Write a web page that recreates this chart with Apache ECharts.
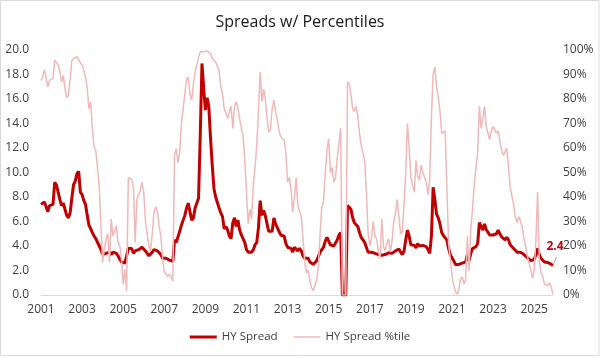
<!DOCTYPE html>
<html>
<head>
<meta charset="utf-8">
<script src="https://cdn.jsdelivr.net/npm/echarts@6/dist/echarts.min.js"></script>
<style>html,body{margin:0;padding:0;background:#fff}#c{width:600px;height:357px}</style>
</head>
<body>
<div id="c"></div>
<script>
// Monthly observations, Jan 2001 .. Dec 2025
const firstYear = 2001;
const monthCount = 300;
const xTickLabels = ['2001','2003','2005','2007','2009','2011','2013','2015','2017','2019','2021','2023','2025'];
const leftTickLabels = ['0.0','2.0','4.0','6.0','8.0','10.0','12.0','14.0','16.0','18.0','20.0'];
const rightTickLabels = ['0%','10%','20%','30%','40%','50%','60%','70%','80%','90%','100%'];

const hySpread = [
7.4,7.4,7.6,7.7,6.8,7.3,7.4,7.4,9.2,9.0,
8.4,7.8,7.3,7.5,7.0,6.5,6.3,6.7,7.9,9.0,
9.3,9.9,10.1,8.4,8.2,7.7,7.4,6.5,5.7,5.6,
5.1,4.8,4.6,4.5,4.0,3.7,3.3,3.2,3.4,3.3,
3.5,3.3,3.5,3.4,3.4,3.2,2.9,2.7,2.6,2.6,
2.7,3.8,3.9,3.8,3.4,3.6,3.7,3.7,3.8,3.9,
3.75,3.6,3.4,3.2,3.3,3.5,3.7,3.7,3.6,3.5,
3.3,3.0,2.85,3.0,3.0,2.85,2.7,2.75,4.5,4.3,
4.2,5.2,5.7,5.7,6.5,7.1,7.5,6.8,6.1,6.3,
7.1,7.5,7.9,13.0,18.9,16.9,15.1,16.1,15.4,12.8,
10.6,8.7,8.0,7.9,7.1,6.7,6.4,5.4,5.6,5.3,
4.8,4.6,5.9,6.3,5.6,6.1,5.3,4.9,4.9,4.3,
3.7,3.5,3.5,3.5,3.7,4.1,4.3,5.5,7.7,6.5,
6.9,6.5,5.8,5.2,5.1,5.2,6.3,5.8,5.5,5.2,
4.9,4.8,4.8,4.2,3.9,3.9,3.8,3.5,3.9,4.0,
3.6,3.8,3.6,3.2,3.0,2.85,3.0,2.7,2.55,2.5,
2.6,2.8,3.15,3.5,3.7,3.9,4.4,4.7,4.7,4.1,
4.1,4.0,4.1,4.5,4.9,5.1,0,0,0,7.3,
7.4,7.0,6.3,5.9,5.8,5.6,5.1,4.7,4.5,4.3,
3.9,3.5,3.4,3.5,3.4,3.4,3.35,3.3,3.45,3.25,
3.2,3.3,3.2,3.45,3.3,3.4,3.5,3.6,3.5,3.75,
3.5,3.3,3.6,4.5,5.3,4.8,4.1,4.0,4.05,3.85,
4.2,4.0,4.05,4.05,4.05,3.95,3.7,3.4,4.8,8.8,
7.8,6.6,6.3,5.8,5.1,4.85,4.9,4.5,3.8,3.3,
3.25,2.8,2.5,2.4,2.5,2.5,2.6,2.6,2.7,3.3,
2.8,3.4,3.8,3.9,3.95,4.2,5.9,5.6,5.3,5.8,
5.35,5.2,4.9,5.0,4.9,4.95,5.0,5.3,5.0,4.75,
4.6,4.5,4.7,4.5,4.1,4.0,3.8,3.7,3.5,3.6,
3.5,3.4,3.3,3.15,3.05,2.9,2.8,2.7,2.9,3.3,
3.8,3.3,3.0,2.85,2.7,2.7,2.65,2.6,2.5,2.4
];

const hyPercentile = [
87.5,89,92,92.5,85,87.7,88.4,88.4,95.9,95.2,
93.9,91.5,87,89.5,84.5,80.5,81.5,88,95.5,96.5,
96.6,97.3,97.3,94.8,93.9,91.8,89,84.3,76,78.8,
68,60.4,59,58.3,44.7,28,13.3,18.7,22.8,25,
13.3,31,24.2,26,28.3,21.4,20,14.6,4.4,10.5,
1.6,48,48,47,44,21.4,39.2,40,42.6,46,
42,30,25,20,18,25,34,36,34,28,
24,15,9.5,10,7.5,8.5,7.5,5.7,57,59.7,
54,58,70,76,82,88,89,82,79.5,86,
90.5,93.9,97,99.3,100,99.3,99.3,99.6,99.3,98.5,
96.5,96,95,93.5,91.5,85,82,76,74,72,
75,77,68,77,79,76,76,68,65,55,
42,29,35,31,45,52,61,75,91,79,
84,80,72,66.5,67.5,76,79.5,74.5,71.5,67,
64.5,64,63.2,58,46,48,43,33.7,40,48,
36.5,37,32,23,14,9,10,6,3,1.8,
1,6,12,25,36,38,50,59,63.8,50,
52,46,48,56,61.5,68,0,0,0,87,
86,82,76,75,77,73,66,61,58,55,
42,25.5,20,23,30,24,23,18,15,31,
20,18,21,23,17.5,22,30,33,39,32,
25,26,37,50,70,60,48,48,42,55,
48,47,53,50,50,46,41,47,73,90,
93,85,81,75,66,66,67,45,21,15,
8,4,1.5,0.3,2,6.5,7.5,4.5,6.5,24,
10,27,35,45,52,58,77,68,72,77,
69,66,63.5,67,68.8,69.5,66,67,63,59,
57,57,60,52,44,40.5,37,32,29.6,32,
32.5,28,23,20,16,13,10.5,7,10,22,
42,14,9,7.5,4.5,5,3.8,5,3.2,0.3
];

const months = [];
for (let i = 0; i < monthCount; i++) {
  const y = firstYear + Math.floor(i / 12);
  const m = (i % 12) + 1;
  months.push(y + '-' + (m < 10 ? '0' + m : m));
}
const lastIdx = hySpread.length - 1;
const lastCoord = [months[lastIdx], hySpread[lastIdx]];

const font = 'Open Sans';
const chart = echarts.init(document.getElementById('c'), null, {renderer: 'canvas'});
chart.setOption({
  animation: false,
  backgroundColor: '#fff',
  title: {
    text: 'Spreads w/ Percentiles', left: 'center', top: 9,
    textStyle: {fontFamily: font, fontSize: 16, fontWeight: 'normal', color: '#1a1a1a'}
  },
  graphic: [{
    type: 'rect', silent: true, z: -10,
    shape: {x: 0.5, y: 0.5, width: 598.5, height: 355},
    style: {fill: 'none', stroke: '#D9D9D9', lineWidth: 1}
  }],
  legend: {
    left: 'center', bottom: 9, itemWidth: 27, itemHeight: 3, itemGap: 16,
    textStyle: {fontFamily: font, fontSize: 11.5, color: '#404040'},
    data: [
      {name: 'HY Spread', icon: 'path://M0,0h27v3h-27z'},
      {name: 'HY Spread %tile', icon: 'path://M0,0h27v1.5h-27z'}
    ]
  },
  grid: {left: 41, right: 47, top: 50, bottom: 62, containLabel: false},
  xAxis: {
    type: 'category', data: months, boundaryGap: false,
    axisLine: {lineStyle: {color: '#D9D9D9', width: 1}},
    axisTick: {show: false},
    splitLine: {show: false},
    axisLabel: {
      interval: (i, v) => v.slice(5) === '01' && xTickLabels.indexOf(v.slice(0, 4)) >= 0,
      formatter: v => v.slice(0, 4),
      margin: 9, fontFamily: font, fontSize: 12, color: '#404040'
    }
  },
  yAxis: [{
    type: 'value', min: 0, max: 20, interval: 2, position: 'left',
    axisLine: {show: false}, axisTick: {show: false}, splitLine: {show: false},
    axisLabel: {formatter: v => leftTickLabels[Math.round(v / 2)], margin: 12,
      fontFamily: font, fontSize: 12, color: '#404040'}
  }, {
    type: 'value', min: 0, max: 100, interval: 10, position: 'right',
    axisLine: {show: false}, axisTick: {show: false}, splitLine: {show: false},
    axisLabel: {formatter: v => rightTickLabels[Math.round(v / 10)], margin: 10,
      fontFamily: font, fontSize: 12, color: '#404040'}
  }],
  series: [{
    name: 'HY Spread', type: 'line', yAxisIndex: 0, data: hySpread,
    symbol: 'none', showSymbol: false,
    lineStyle: {color: '#C00000', width: 3},
    itemStyle: {color: '#C00000'},
    markPoint: {
      silent: true,
      data: [{
        coord: lastCoord, value: hySpread[lastIdx],
        symbol: 'circle', symbolSize: 1,
        itemStyle: {color: 'rgba(0,0,0,0)'},
        label: {
          show: true, position: 'top', distance: 13, offset: [2, 0],
          formatter: p => Number(p.value).toFixed(1),
          color: '#C00000', fontWeight: 'bold', fontSize: 12, fontFamily: font
        }
      }, {
        coord: lastCoord,
        symbol: 'path://M0,10L4,0', symbolSize: [3, 7], symbolOffset: [2, -5],
        symbolKeepAspect: false,
        itemStyle: {color: 'none', borderColor: '#A6A6A6', borderWidth: 1},
        label: {show: false}
      }]
    },
    z: 2
  }, {
    name: 'HY Spread %tile', type: 'line', yAxisIndex: 1, data: hyPercentile,
    symbol: 'none', showSymbol: false,
    lineStyle: {color: '#F2B8B8', width: 1.5},
    itemStyle: {color: '#F2B8B8'},
    z: 3
  }]
});
</script>
</body>
</html>
